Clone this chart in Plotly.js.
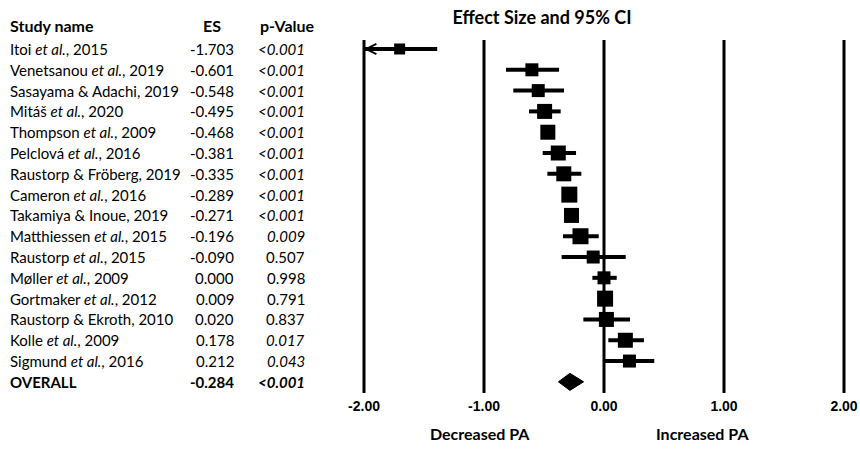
<!DOCTYPE html>
<html>
<head>
<meta charset="utf-8">
<script src="https://cdn.plot.ly/plotly-3.0.1.min.js"></script>
<style>html,body{margin:0;padding:0;background:#fff;}#chart{width:860px;height:456px;}</style>
</head>
<body>
<div id="chart"></div>
<script>
// ---- data ----
const studies = [
  "Itoi et al., 2015", "Venetsanou et al., 2019", "Sasayama & Adachi, 2019", "Mitáš et al., 2020",
  "Thompson et al., 2009", "Pelclová et al., 2016", "Raustorp & Fröberg, 2019", "Cameron et al., 2016",
  "Takamiya & Inoue, 2019", "Matthiessen et al., 2015", "Raustorp et al., 2015", "Møller et al., 2009",
  "Gortmaker et al., 2012", "Raustorp & Ekroth, 2010", "Kolle et al., 2009", "Sigmund et al., 2016"
];
const es = [-1.703, -0.601, -0.548, -0.495, -0.468, -0.381, -0.335, -0.289, -0.271, -0.196, -0.090, 0.000, 0.009, 0.020, 0.178, 0.212];
const pText = ["<0.001","<0.001","<0.001","<0.001","<0.001","<0.001","<0.001","<0.001","<0.001","0.009","0.507","0.998","0.791","0.837","0.017","0.043"];
const pNum = [0.0005,0.0005,0.0005,0.0005,0.0005,0.0005,0.0005,0.0005,0.0005,0.009,0.507,0.998,0.791,0.837,0.017,0.043];
// CI bounds (Itoi lower bound runs off the axis at -2, shown with an arrow)
const ciLow = [-2.00, -0.817, -0.756, -0.625, -0.52, -0.511, -0.472, -0.33, -0.31, -0.342, -0.353, -0.097, -0.05, -0.172, 0.036, 0.008];
const ciHigh = [-1.39, -0.375, -0.333, -0.361, -0.42, -0.233, -0.189, -0.25, -0.23, -0.044, 0.181, 0.106, 0.07, 0.217, 0.333, 0.419];
const offAxisLow = [true,false,false,false,false,false,false,false,false,false,false,false,false,false,false,false];
const weightBox = [11, 13, 13, 15, 15, 15, 15, 16, 15, 16, 13, 13, 16, 15, 15, 13];
const overall = {label: "OVERALL", es: -0.284, p: "<0.001", low: -0.38, high: -0.17};
const tickVals = [-2, -1, 0, 1, 2];
const headers = ["Study name", "ES", "p-Value"];
const sideLabels = ["Decreased PA", "Increased PA"];
const sideLabelX = [-1.033, 0.817];

// ---- build ----
const n = studies.length;
const rows = studies.map((_, i) => i);
const overallRow = n;
const FONT = "Lato, 'Open Sans', sans-serif";

const wx = [], wy = [];
for (let i = 0; i < n; i++) { wx.push(ciLow[i], ciHigh[i], null); wy.push(i, i, null); }

const traces = [
  {type: "scatter", mode: "lines", x: wx, y: wy, line: {color: "#000", width: 4}, hoverinfo: "skip", showlegend: false},
  {type: "scatter", mode: "lines", fill: "toself", fillcolor: "#000",
   x: [overall.low, overall.es, overall.high, overall.es, overall.low],
   y: [overallRow, overallRow - 0.41, overallRow, overallRow + 0.41, overallRow],
   line: {color: "#000", width: 1}, showlegend: false},
  {type: "scatter", mode: "markers", x: es, y: rows, opacity: 1,
   marker: {symbol: "square", size: weightBox, color: "#000", opacity: 1, line: {width: 0}}, showlegend: false}
];

const fmt = v => v.toFixed(3);
const nameHtml = s => s.replace("et al.", "<i>et al.</i>");
const ann = [];
const colX = [8/860, 236/860, 307/860];
const hdrX = [8/860, 212/860, 287/860];
const hdrY = (396 - 26) / 366;
const txtFont = {family: FONT, size: 15, color: "#000"};
const hdrFont = {family: FONT, size: 16, color: "#000"};
ann.push({xref: "paper", yref: "paper", x: hdrX[0], y: hdrY, xanchor: "left", yanchor: "middle", text: "<b>" + headers[0] + "</b>", showarrow: false, font: hdrFont});
ann.push({xref: "paper", yref: "paper", x: hdrX[1], y: hdrY, xanchor: "center", yanchor: "middle", text: "<b>" + headers[1] + "</b>", showarrow: false, font: hdrFont});
ann.push({xref: "paper", yref: "paper", x: hdrX[2], y: hdrY, xanchor: "center", yanchor: "middle", text: "<b>" + headers[2] + "</b>", showarrow: false, font: hdrFont});
for (let i = 0; i < n; i++) {
  ann.push({xref: "paper", yref: "y", x: colX[0], y: i, xanchor: "left", yanchor: "middle", text: nameHtml(studies[i]), showarrow: false, font: txtFont});
  ann.push({xref: "paper", yref: "y", x: colX[1], y: i, xanchor: "right", yanchor: "middle", text: fmt(es[i]), showarrow: false, font: txtFont});
  const pt = pText[i].replace("<", "&lt;");
  ann.push({xref: "paper", yref: "y", x: colX[2], y: i, xanchor: "right", yanchor: "middle", text: pNum[i] < 0.05 ? "<i>" + pt + "</i>" : pt, showarrow: false, font: txtFont});
}
ann.push({xref: "paper", yref: "y", x: colX[0], y: overallRow, xanchor: "left", yanchor: "middle", text: "<b>" + overall.label + "</b>", showarrow: false, font: txtFont});
ann.push({xref: "paper", yref: "y", x: colX[1], y: overallRow, xanchor: "right", yanchor: "middle", text: "<b>" + fmt(overall.es) + "</b>", showarrow: false, font: txtFont});
ann.push({xref: "paper", yref: "y", x: colX[2], y: overallRow, xanchor: "right", yanchor: "middle", text: "<b><i>" + overall.p.replace("<", "&lt;") + "</i></b>", showarrow: false, font: txtFont});
// arrow for truncated CI
for (let i = 0; i < n; i++) {
  if (offAxisLow[i]) {
    ann.push({xref: "x", yref: "y", axref: "x", ayref: "y", x: ciLow[i], y: i, ax: ciLow[i] + 0.08, ay: i, text: "", showarrow: true, arrowhead: 5, arrowwidth: 2, arrowsize: 1.0, arrowcolor: "#000", standoff: 0});
  }
}
for (let k = 0; k < sideLabels.length; k++) {
  ann.push({xref: "x", yref: "paper", x: sideLabelX[k], y: -0.1038, xanchor: "center", yanchor: "middle", text: "<b>" + sideLabels[k] + "</b>", showarrow: false, font: {family: FONT, size: 16, color: "#000"}});
}

const shapes = tickVals.map(v => ({type: "line", xref: "x", yref: "y", x0: v, x1: v, y0: -0.43, y1: 16.54, line: {color: "#000", width: 3}, layer: "below"}));

const layout = {
  width: 860, height: 456,
  margin: {l: 0, r: 0, t: 30, b: 60},
  paper_bgcolor: "#fff", plot_bgcolor: "#fff",
  showlegend: false,
  title: {text: "<b>Effect Size and 95% CI</b>", x: 542/860, xanchor: "center", y: 1 - 18/456, yanchor: "middle", font: {family: FONT, size: 18, color: "#000"}},
  xaxis: {range: [-2.1, 2.1], domain: [352/860, 856/860], showgrid: false, zeroline: false, showline: false,
          tickvals: tickVals, ticktext: tickVals.map(v => v.toFixed(2)), ticks: "",
          tickfont: {family: "'Liberation Sans', Arial, sans-serif", size: 14, color: "#000", weight: "bold"}, fixedrange: true},
  yaxis: {range: [16.68, -0.913], visible: false, showgrid: false, zeroline: false, fixedrange: true},
  annotations: ann,
  shapes: shapes
};

Plotly.newPlot("chart", traces, layout, {staticPlot: true});
</script>
</body>
</html>
